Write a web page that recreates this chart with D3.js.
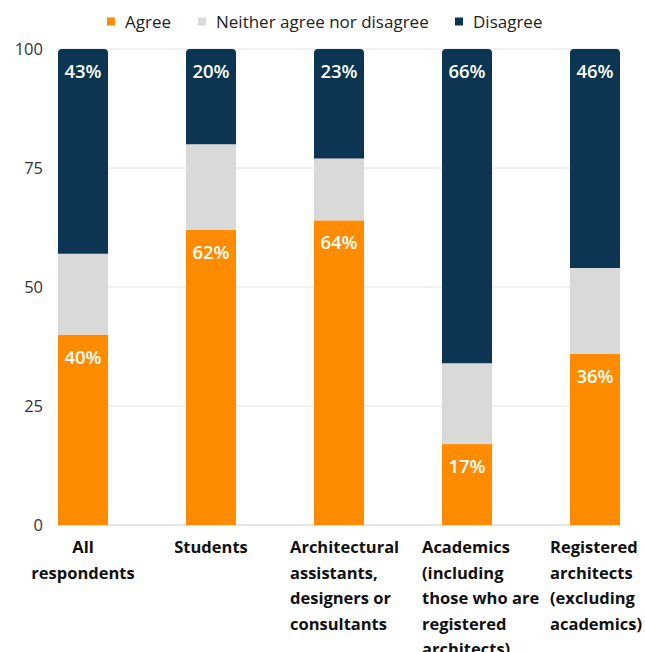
<!DOCTYPE html>
<html>
<head>
<meta charset="utf-8">
<script src="https://cdn.jsdelivr.net/npm/d3@7"></script>
<style>
  html, body { margin: 0; padding: 0; background: #fff; }
  svg { display: block; }
</style>
</head>
<body>
<svg id="chart" width="645" height="652"></svg>
<script>
// Survey responses by respondent group (percent)
const categories = [
  ["All", "respondents"],
  ["Students"],
  ["Architectural", "assistants,", "designers or", "consultants"],
  ["Academics", "(including", "those who are", "registered", "architects)"],
  ["Registered", "architects", "(excluding", "academics)"]
];
const agree    = [40, 62, 64, 17, 36];
const neither  = [17, 18, 13, 17, 18];
const disagree = [43, 20, 23, 66, 46];
const seriesNames = ["Agree", "Neither agree nor disagree", "Disagree"];
const yTicks = [0, 25, 50, 75, 100];

const colors = ["#FF8C00", "#D9D9D9", "#0B3552"];

const svg = d3.select("#chart");
const plotLeft = 58, plotRight = 620, plotTop = 49, plotBottom = 525;

// band scale: bars 50px wide on a 128px step
const x = d3.scaleBand()
  .domain(d3.range(categories.length))
  .range([plotLeft, plotRight])
  .paddingInner(78 / 128)
  .paddingOuter(0);
const bw = x.bandwidth();
const xPos = i => x(i);

const y = d3.scaleLinear().domain([0, 100]).range([plotBottom, plotTop]);

// gridlines
svg.append("g").selectAll("line").data(yTicks).join("line")
  .attr("x1", plotLeft).attr("x2", plotRight)
  .attr("y1", d => y(d)).attr("y2", d => y(d))
  .attr("stroke", d => d === 0 ? "#C8C8C8" : "#E2E2E2")
  .attr("stroke-width", 1);

// y axis labels
const yAxis = d3.axisLeft(y).tickValues(yTicks).tickSize(0).tickPadding(0);
const gy = svg.append("g").attr("transform", `translate(43,0)`).call(yAxis);
gy.select(".domain").remove();
gy.selectAll("text")
  .attr("font-family", "'Open Sans', sans-serif")
  .attr("font-size", 16.5)
  .attr("fill", "#333");

// stacked data
const rows = categories.map((c, i) => ({ i, Agree: agree[i], Neither: neither[i], Disagree: disagree[i] }));
const stack = d3.stack().keys(["Agree", "Neither", "Disagree"]);
const stacked = stack(rows);

const r = 4;
stacked.forEach((layer, li) => {
  const g = svg.append("g");
  layer.forEach((d, i) => {
    const x0 = xPos(i), y0 = y(d[1]), y1 = y(d[0]);
    if (li === 2) {
      // top segment with rounded upper corners
      const p = d3.path();
      p.moveTo(x0, y1);
      p.lineTo(x0, y0 + r);
      p.quadraticCurveTo(x0, y0, x0 + r, y0);
      p.lineTo(x0 + bw - r, y0);
      p.quadraticCurveTo(x0 + bw, y0, x0 + bw, y0 + r);
      p.lineTo(x0 + bw, y1);
      p.closePath();
      g.append("path").attr("d", p.toString()).attr("fill", colors[li]);
    } else {
      g.append("rect")
        .attr("x", x0).attr("y", y0)
        .attr("width", bw).attr("height", y1 - y0)
        .attr("fill", colors[li]);
    }
  });
});

// value labels for Agree and Disagree segments
[0, 2].forEach(li => {
  stacked[li].forEach((d, i) => {
    svg.append("text")
      .attr("x", xPos(i) + bw / 2)
      .attr("y", y(d[1]) + 29)
      .attr("text-anchor", "middle")
      .attr("font-family", "'Open Sans', sans-serif")
      .attr("font-size", 18.5)
      .attr("font-weight", 600)
      .attr("fill", "#fff")
      .text(`${d[1] - d[0]}%`);
  });
});

// category labels
const labelAnchor = ["middle", "middle", "start", "start", "start"];
const labelDx = [bw / 2, bw / 2, -24, -20, -20];
categories.forEach((lines, i) => {
  const t = svg.append("text")
    .attr("font-family", "'Open Sans', sans-serif")
    .attr("font-weight", 700)
    .attr("font-size", 16.5)
    .attr("fill", "#111")
    .attr("text-anchor", labelAnchor[i]);
  lines.forEach((ln, k) => {
    t.append("tspan")
      .attr("x", xPos(i) + labelDx[i])
      .attr("y", 553 + k * 25.5)
      .text(ln);
  });
});

// legend
const legendX = [107, 198, 455];
const lg = svg.append("g");
seriesNames.forEach((name, k) => {
  lg.append("rect")
    .attr("x", legendX[k]).attr("y", 17.5)
    .attr("width", 8).attr("height", 8)
    .attr("fill", colors[k]);
  lg.append("text")
    .attr("x", legendX[k] + 18).attr("y", 27.5)
    .attr("font-family", "'Open Sans', sans-serif")
    .attr("font-size", 17)
    .attr("fill", "#222")
    .text(name);
});
</script>
</body>
</html>
